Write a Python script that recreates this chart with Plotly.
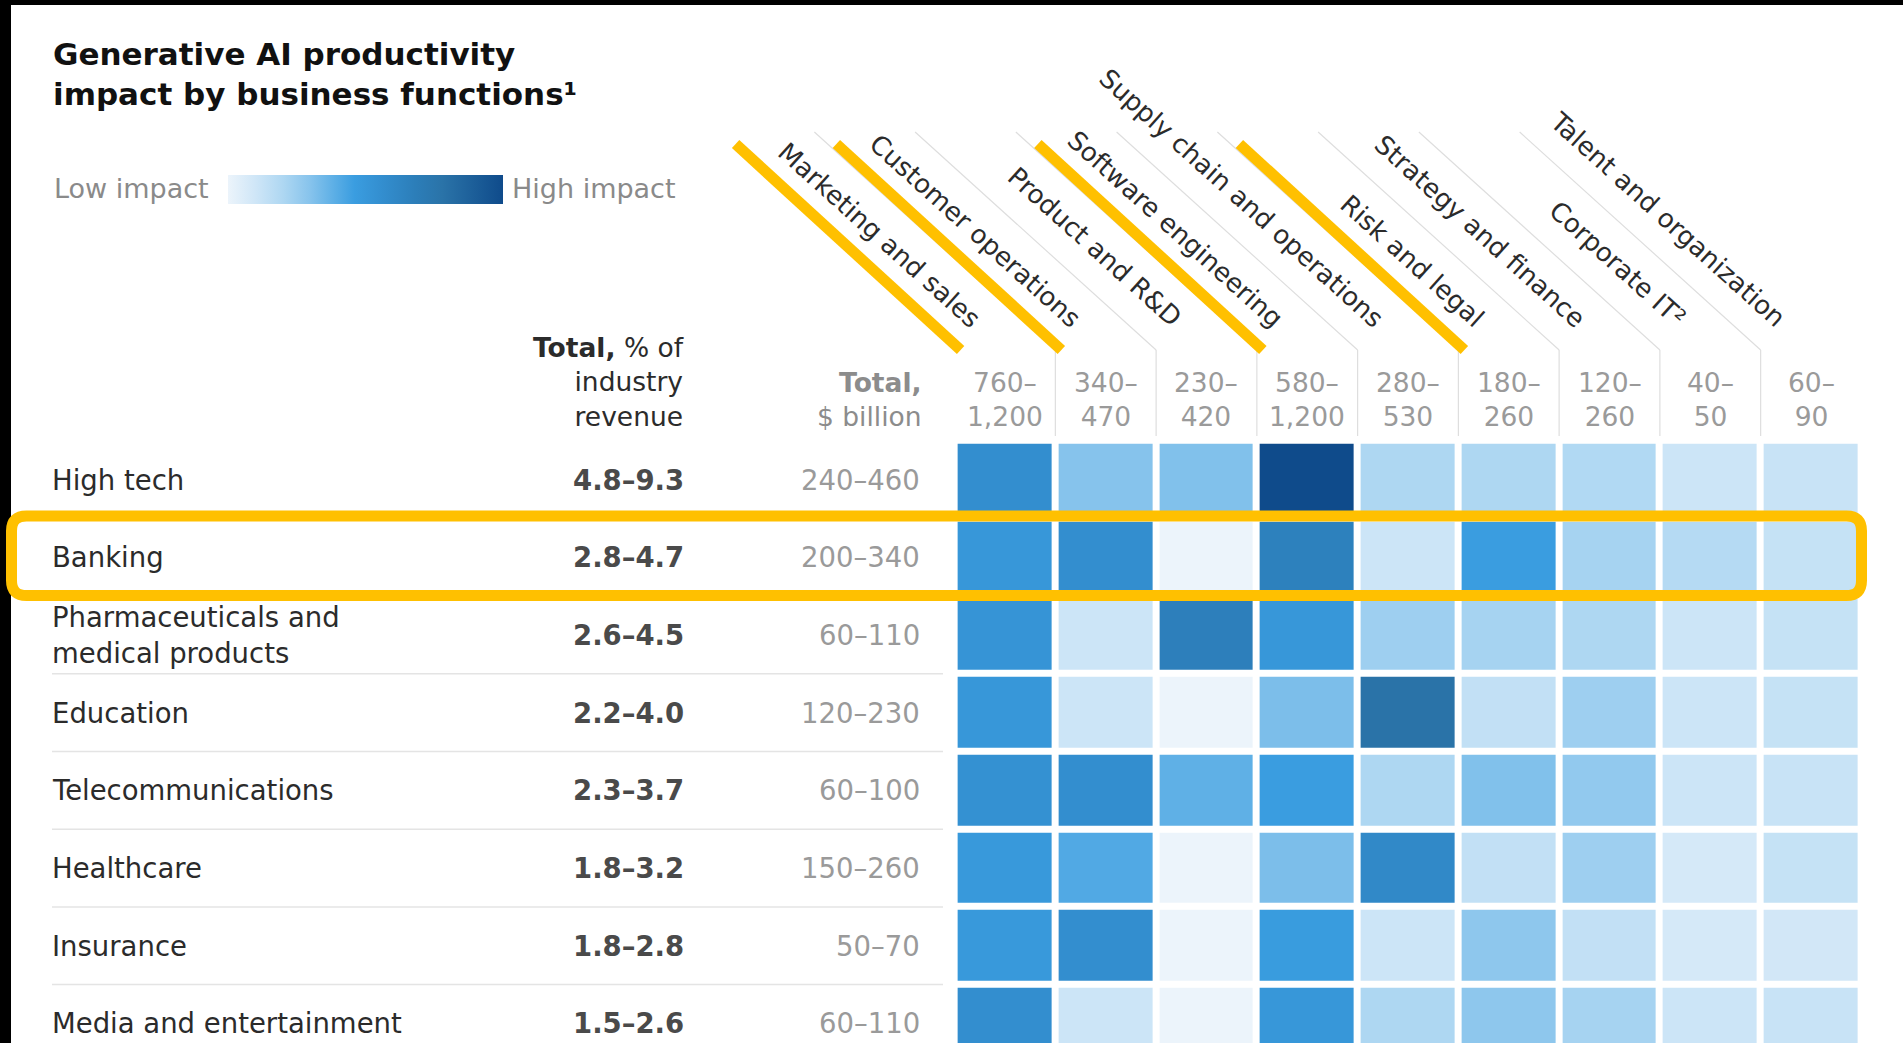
import plotly.graph_objects as go

W, H = 1903, 1043
FONT = "DejaVu Sans"

# ---------------- data ----------------
industries = ["High tech", "Banking", "Pharmaceuticals and<br>medical products", "Education",
              "Telecommunications", "Healthcare", "Insurance", "Media and entertainment"]
revenue_pct = ["4.8–9.3", "2.8–4.7", "2.6–4.5", "2.2–4.0", "2.3–3.7", "1.8–3.2", "1.8–2.8", "1.5–2.6"]
total_bn = ["240–460", "200–340", "60–110", "120–230", "60–100", "150–260", "50–70", "60–110"]

functions = ["Marketing and sales", "Customer operations", "Product and R&D", "Software engineering",
             "Supply chain and operations", "Risk and legal", "Strategy and finance",
             "Corporate IT²", "Talent and organization"]
function_totals = ["760–<br>1,200", "340–<br>470", "230–<br>420", "580–<br>1,200", "280–<br>530",
                   "180–<br>260", "120–<br>260", "40–<br>50", "60–<br>90"]
highlighted_functions = ["Marketing and sales", "Customer operations", "Software engineering", "Risk and legal"]
highlighted_industry = "Banking"

# relative impact (0 = low, 1 = high), read from cell shades
impact_high_tech = [0.56, 0.30, 0.31, 1.00, 0.20, 0.20, 0.19, 0.11, 0.12]
impact_banking = [0.50, 0.56, 0.00, 0.66, 0.11, 0.46, 0.22, 0.18, 0.13]
impact_pharma = [0.52, 0.11, 0.67, 0.50, 0.24, 0.22, 0.20, 0.11, 0.13]
impact_education = [0.50, 0.11, 0.00, 0.32, 0.78, 0.14, 0.24, 0.11, 0.13]
impact_telecom = [0.54, 0.56, 0.38, 0.46, 0.20, 0.31, 0.27, 0.11, 0.12]
impact_healthcare = [0.49, 0.41, 0.00, 0.32, 0.60, 0.14, 0.24, 0.08, 0.13]
impact_insurance = [0.49, 0.56, 0.00, 0.47, 0.11, 0.28, 0.14, 0.08, 0.09]
impact_media = [0.56, 0.11, 0.00, 0.50, 0.20, 0.28, 0.22, 0.11, 0.12]

z = [impact_high_tech, impact_banking, impact_pharma, impact_education,
     impact_telecom, impact_healthcare, impact_insurance, impact_media]

colorscale = [
    [0.00, "#ecf4fb"], [0.10, "#cfe6f7"], [0.20, "#aed7f2"], [0.30, "#86c3ec"],
    [0.38, "#5fb0e6"], [0.46, "#3a9de0"], [0.56, "#338ecf"], [0.68, "#2c7eb9"],
    [0.78, "#2a73a8"], [1.00, "#0f4b8b"],
]

# ---------------- geometry helpers (pixels -> paper) ----------------
def px(x):
    return x / W

def py(y):
    return 1 - y / H

X0, X1 = 954.6, 1861.4          # heatmap horizontal extent (px)
PPU = (X1 - X0) / len(functions)  # pixels per column
Y0 = 440.7                       # heatmap top (px)
ROW = 77.7                       # row pitch (px)
y_bottom = -0.5 + (H - Y0) / ROW

def col_px(xv):
    """column coordinate -> pixel (same mapping as the x axis)"""
    return X0 + (xv + 0.5) * PPU

fig = go.Figure()
fig.add_trace(go.Heatmap(
    z=z, x=functions, y=industries,
    zmin=0, zmax=1, colorscale=colorscale,
    xgap=7, ygap=7, hoverinfo="skip",
    showscale=True,
    colorbar=dict(orientation="h", x=px(228), xanchor="left", y=py(175), yanchor="top",
                  len=275, lenmode="pixels", thickness=29, thicknessmode="pixels",
                  showticklabels=False, ticks="", outlinewidth=0, xpad=0, ypad=0),
))

ann = []
txt = dict(family=FONT, size=27.5, color="#2b2b2b")

# title
ann.append(dict(text="<b>Generative AI productivity<br>impact by business functions¹</b>",
                xref="paper", yref="paper", x=px(51), y=py(74), xanchor="left", yanchor="middle",
                align="left", showarrow=False, font=dict(family=FONT, size=31, color="#111111")))
# legend labels
ann.append(dict(text="Low impact", xref="paper", yref="paper", x=px(52), y=py(189),
                xanchor="left", yanchor="middle", showarrow=False,
                font=dict(family=FONT, size=27, color="#8a8a8a")))
ann.append(dict(text="High impact", xref="paper", yref="paper", x=px(510), y=py(189),
                xanchor="left", yanchor="middle", showarrow=False,
                font=dict(family=FONT, size=27, color="#8a8a8a")))
# column headers
ann.append(dict(text="<b>Total,</b> % of<br>industry<br>revenue", xref="paper", yref="paper",
                x=px(686), y=py(382), xanchor="right", yanchor="middle", align="right",
                showarrow=False, font=dict(family=FONT, size=26.5, color="#2b2b2b")))
ann.append(dict(text="<b>Total,</b><br>$ billion", xref="paper", yref="paper",
                x=px(924), y=py(399), xanchor="right", yanchor="middle", align="right",
                showarrow=False, font=dict(family=FONT, size=26.5, color="#8c8c8c")))

# row texts
for i, name in enumerate(industries):
    ann.append(dict(text=name, xref="paper", yref="y", x=px(50), y=i, xanchor="left",
                    yanchor="middle", align="left", showarrow=False, font=txt))
    ann.append(dict(text="<b>" + revenue_pct[i] + "</b>", xref="paper", yref="y", x=px(686), y=i,
                    xanchor="right", yanchor="middle", showarrow=False,
                    font=dict(family=FONT, size=27.5, color="#4a4a4a")))
    ann.append(dict(text=total_bn[i], xref="paper", yref="y", x=px(922), y=i,
                    xanchor="right", yanchor="middle", showarrow=False,
                    font=dict(family=FONT, size=27.5, color="#9a9a9a")))

# function labels and totals
for j, f in enumerate(functions):
    ann.append(dict(text=f, xref="x", yref="paper", x=j - 16 / PPU, y=py(336),
                    xanchor="right", yanchor="bottom", textangle=42, showarrow=False,
                    font=dict(family=FONT, size=26, color="#2b2b2b")))
    ann.append(dict(text=function_totals[j], xref="x", yref="paper", x=j, y=py(399),
                    xanchor="center", yanchor="middle", align="center", showarrow=False,
                    font=dict(family=FONT, size=26.5, color="#9a9a9a")))

shapes = []
# row separators
for k in range(len(industries) - 1):
    shapes.append(dict(type="line", xref="paper", yref="y", x0=px(52), x1=px(943),
                       y0=k + 0.5, y1=k + 0.5, line=dict(color="#e4e4e4", width=1.5), layer="below"))
# header separators (diagonal + vertical) between function columns
for b in range(len(functions) - 1):
    xb = col_px(b + 0.5)
    shapes.append(dict(type="line", xref="paper", yref="paper", x0=px(xb), x1=px(xb),
                       y0=py(350), y1=py(436), line=dict(color="#dedede", width=1.2)))
    shapes.append(dict(type="line", xref="paper", yref="paper", x0=px(xb), x1=px(xb - 241),
                       y0=py(350), y1=py(132), line=dict(color="#dedede", width=1.2)))
# highlighted function marks
for f in highlighted_functions:
    j = functions.index(f)
    xb = col_px(j - 0.5) + 6
    shapes.append(dict(type="line", xref="paper", yref="paper", x0=px(xb), x1=px(xb - 225),
                       y0=py(350), y1=py(144), line=dict(color="#FFC000", width=11)))

# black edge bands
shapes.append(dict(type="rect", xref="paper", yref="paper", x0=0, x1=px(11), y0=0, y1=1,
                   fillcolor="#000000", line=dict(width=0)))
shapes.append(dict(type="rect", xref="paper", yref="paper", x0=0, x1=1, y0=py(5), y1=1,
                   fillcolor="#000000", line=dict(width=0)))

# highlighted industry box (rounded)
r_i = industries.index(highlighted_industry)
L, R = 11.5, 1861.5
T = Y0 + r_i * ROW - 2.5
B = Y0 + (r_i + 1) * ROW - 0.5
rad = 15
path = (f"M {px(L + rad)},{py(T)} L {px(R - rad)},{py(T)} Q {px(R)},{py(T)} {px(R)},{py(T + rad)} "
        f"L {px(R)},{py(B - rad)} Q {px(R)},{py(B)} {px(R - rad)},{py(B)} "
        f"L {px(L + rad)},{py(B)} Q {px(L)},{py(B)} {px(L)},{py(B - rad)} "
        f"L {px(L)},{py(T + rad)} Q {px(L)},{py(T)} {px(L + rad)},{py(T)} Z")
shapes.append(dict(type="path", xref="paper", yref="paper", path=path,
                   line=dict(color="#FFC000", width=11), fillcolor="rgba(0,0,0,0)"))

fig.update_layout(
    width=W, height=H, margin=dict(l=0, r=0, t=0, b=0),
    paper_bgcolor="white", plot_bgcolor="white",
    xaxis=dict(domain=[px(X0), px(X1)], range=[-0.5, 8.5], visible=False, fixedrange=True),
    yaxis=dict(domain=[0, py(Y0)], range=[y_bottom, -0.5], visible=False, fixedrange=True),
    annotations=ann, shapes=shapes, showlegend=False,
)

fig.write_html("out.html", config={"displayModeBar": False},
               post_script="document.body.style.margin='0px';document.body.style.overflow='hidden';")
